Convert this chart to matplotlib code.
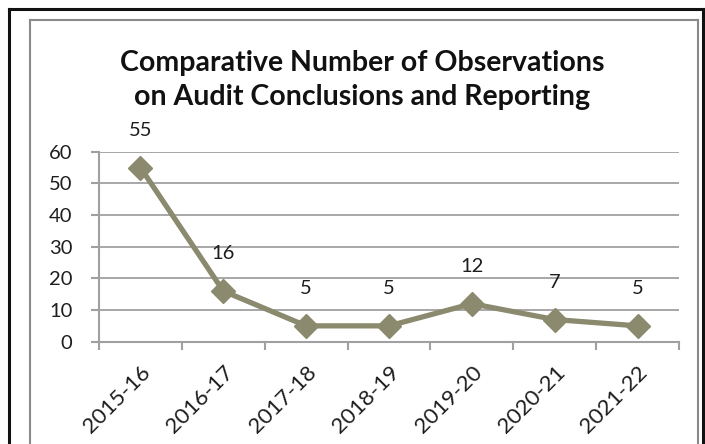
import matplotlib
matplotlib.use("Agg")
import matplotlib.pyplot as plt
from matplotlib.lines import Line2D

categories = ["2015-16", "2016-17", "2017-18", "2018-19", "2019-20", "2020-21", "2021-22"]
values = [55, 16, 5, 5, 12, 7, 5]
yticks = [0, 10, 20, 30, 40, 50, 60]
title = "Comparative Number of Observations\non Audit Conclusions and Reporting"

plt.rcParams['font.family'] = ['Lato', 'DejaVu Sans']

W, H = 705, 444
fig = plt.figure(figsize=(W / 100, H / 100), dpi=100)

def fx(px):
    return px / W

def fy(py):
    return 1 - py / H

ax = fig.add_axes([fx(99), fy(341.7), fx(679) - fx(99), fy(151.7) - fy(341.7)])

line_color = '#8b8a6f'
grid_color = '#a0a0a0'
text_color = '#1e1e1e'

x = list(range(len(categories)))
ax.plot(x, values, color=line_color, lw=3.8, marker='D', markersize=12,
        markerfacecolor=line_color, markeredgecolor=line_color, zorder=3,
        clip_on=False)

for xi, v in zip(x, values):
    ax.annotate(str(v), (xi, v), xytext=(0, 27), textcoords='offset points',
                ha='center', va='center', fontsize=14.5, color=text_color)

ax.set_xlim(-0.5, len(categories) - 0.5)
ax.set_ylim(0, 60)
ax.set_yticks(yticks)
ax.set_yticklabels([str(t) for t in yticks], fontsize=14.5, color=text_color)
ax.set_xticks(x)
ax.set_xticklabels(categories, rotation=45, ha='right', rotation_mode='anchor',
                   fontsize=16, color=text_color)
ax.set_xticks([i - 0.5 for i in range(len(categories) + 1)], minor=True)
ax.tick_params(axis='x', which='major', length=0, pad=15)
ax.tick_params(axis='x', which='minor', length=6, width=1.5, color=grid_color, direction='out')
ax.tick_params(axis='y', length=6, width=1.5, color=grid_color, pad=13)

ax.grid(axis='y', color=grid_color, lw=1.3)
ax.set_axisbelow(True)
for s in ['top', 'right']:
    ax.spines[s].set_visible(False)
for s in ['left', 'bottom']:
    ax.spines[s].set_color(grid_color)
    ax.spines[s].set_linewidth(1.5)

fig.text(fx(362), fy(80), title, ha='center', va='center', fontsize=20.5,
         fontweight='bold', color='#111111', linespacing=1.4)

# chart borders
fig.add_artist(Line2D([fx(30), fx(30)], [0, fy(20)], color='#8a8a8a', lw=1.5))
fig.add_artist(Line2D([fx(30), fx(698)], [fy(20), fy(20)], color='#8a8a8a', lw=1.5))
fig.add_artist(Line2D([fx(698), fx(698)], [0, fy(20)], color='#8a8a8a', lw=1.5))
fig.add_artist(Line2D([fx(9), fx(9)], [0, fy(9)], color='#111111', lw=2.2))
fig.add_artist(Line2D([fx(9), 1], [fy(9), fy(9)], color='#111111', lw=2.2))
fig.add_artist(Line2D([fx(703), fx(703)], [0, fy(9)], color='#111111', lw=2.2))

fig.savefig("out.png", dpi=100)
